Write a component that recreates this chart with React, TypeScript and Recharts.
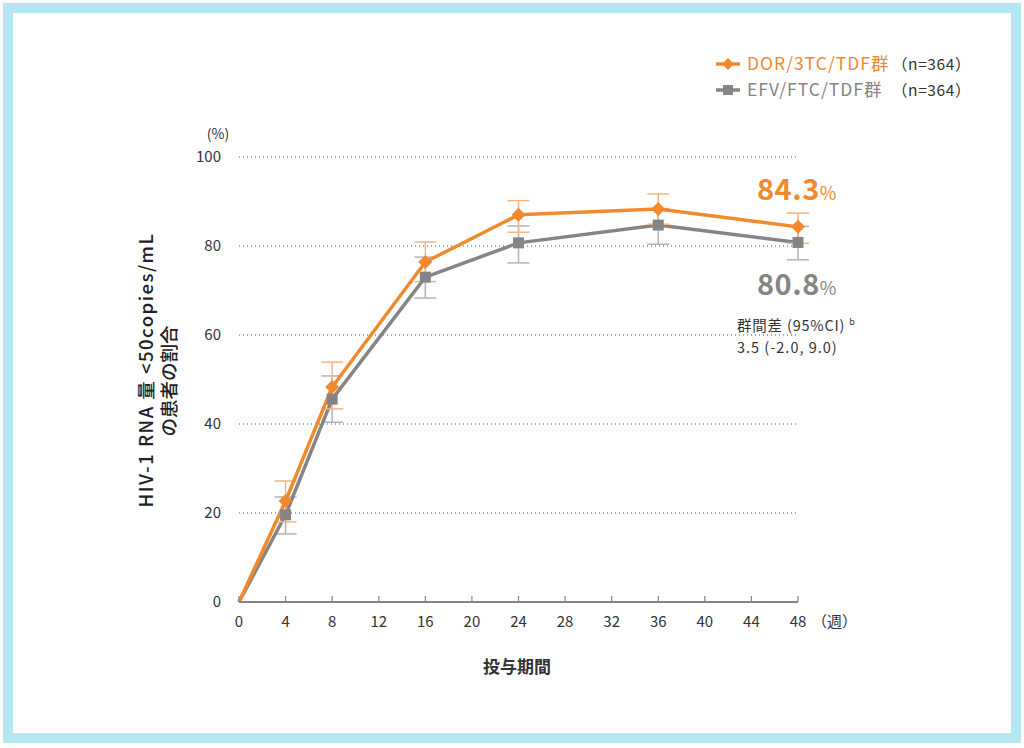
import React from 'react'
import {
  LineChart,
  Line,
  XAxis,
  YAxis,
  CartesianGrid,
  ErrorBar,
} from 'recharts'

const weeks = [0, 4, 8, 16, 24, 36, 48]
const dorValues = [0, 22.7, 48.3, 76.4, 87.0, 88.3, 84.3]
const efvValues = [0, 19.6, 45.6, 73.0, 80.7, 84.7, 80.8]
// [lower, upper] half-widths of the 95% CI
const dorErrors: (number[] | null)[] = [null, [4.7, 4.5], [4.9, 5.6], [4.4, 4.5], [3.9, 3.2], [3.4, 3.4], [3.7, 3.1]]
const efvErrors: (number[] | null)[] = [null, [4.3, 4.0], [5.2, 5.2], [4.7, 4.5], [4.5, 3.8], [4.3, 3.7], [3.9, 3.6]]
const xTicks = [0, 4, 8, 12, 16, 20, 24, 28, 32, 36, 40, 44, 48]
const yTicks = [0, 20, 40, 60, 80, 100]

const data = weeks.map((w, i) => ({
  week: w,
  dor: dorValues[i],
  efv: efvValues[i],
  dorErr: dorErrors[i],
  efvErr: efvErrors[i],
}))

const ORANGE = '#f08a2c'
const GRAY = '#858585'
const FONT = '"Noto Sans CJK JP", "Noto Sans", sans-serif'

const DiamondDot = (props: any) => {
  const { cx, cy, payload } = props
  if (payload.week === 0) return <g key={props.key} />
  const r = 7
  return (
    <polygon
      key={props.key}
      points={`${cx},${cy - r} ${cx + r},${cy} ${cx},${cy + r} ${cx - r},${cy}`}
      fill={ORANGE}
    />
  )
}

const SquareDot = (props: any) => {
  const { cx, cy, payload } = props
  if (payload.week === 0) return <g key={props.key} />
  const s = 11
  return <rect key={props.key} x={cx - s / 2} y={cy - s / 2} width={s} height={s} fill={GRAY} />
}

const XTick = (props: any) => {
  const { x, y, payload } = props
  return (
    <g>
      <line x1={x} y1={y} x2={x} y2={y - 6} stroke={GRAY} strokeWidth={1.2} />
      <text x={x} y={y + 25} textAnchor='middle' fontSize={15} fill='#333' fontFamily={FONT}>
        {payload.value}
      </text>
    </g>
  )
}

export default function App() {
  return (
    <div style={{ position: 'absolute', left: 0, top: 0, width: 1024, height: 748, background: '#fff' }}>
      <div
        style={{
          position: 'absolute',
          left: 3,
          top: 3,
          width: 1018,
          height: 740,
          border: '10px solid #b4e7f1',
          boxSizing: 'border-box',
        }}
      />
      <div style={{ position: 'absolute', left: 0, top: 0 }}>
        <LineChart
          width={1024}
          height={748}
          data={data}
          margin={{ top: 157, right: 226, left: 179, bottom: 116 }}>
          <CartesianGrid vertical={false} stroke='#555' strokeDasharray='1 3' />
          <XAxis
            dataKey='week'
            type='number'
            domain={[0, 48]}
            ticks={xTicks}
            height={30}
            tickLine={false}
            tickSize={0}
            tickMargin={0}
            axisLine={{ stroke: GRAY, strokeWidth: 2 }}
            tick={<XTick />}
            interval={0}
          />
          <YAxis
            domain={[0, 100]}
            ticks={yTicks}
            width={60}
            axisLine={false}
            tickLine={false}
            tickMargin={12}
            tick={{ fontSize: 15, fill: '#333', fontFamily: FONT }}
          />
          <Line
            dataKey='efv'
            stroke={GRAY}
            strokeWidth={3.5}
            dot={<SquareDot />}
            activeDot={false}
            isAnimationActive={false}>
            <ErrorBar dataKey='efvErr' stroke='#b3b3b3' strokeWidth={1.5} width={11} isAnimationActive={false} />
          </Line>
          <Line
            dataKey='dor'
            stroke={ORANGE}
            strokeWidth={3.5}
            dot={<DiamondDot />}
            activeDot={false}
            isAnimationActive={false}>
            <ErrorBar dataKey='dorErr' stroke='#f5b482' strokeWidth={1.5} width={11} isAnimationActive={false} />
          </Line>
        </LineChart>
      </div>
      <svg
        width={1024}
        height={748}
        style={{ position: 'absolute', left: 0, top: 0, pointerEvents: 'none' }}
        fontFamily={FONT}>
        {/* legend */}
        <line x1={716} y1={64} x2={740} y2={64} stroke={ORANGE} strokeWidth={3.5} />
        <polygon points='728,58 734,64 728,70 722,64' fill={ORANGE} />
        <text x={747} y={70} fontSize={17.5} letterSpacing={1} fill={ORANGE}>DOR/3TC/TDF群</text>
        <text x={892} y={70} fontSize={15.5} letterSpacing={0.6} fill='#333'>（n=364）</text>
        <line x1={716} y1={90} x2={740} y2={90} stroke={GRAY} strokeWidth={3.5} />
        <rect x={723} y={85} width={10} height={10} fill={GRAY} />
        <text x={747} y={96} fontSize={17.5} letterSpacing={1} fill={GRAY}>EFV/FTC/TDF群</text>
        <text x={892} y={96} fontSize={15.5} letterSpacing={0.6} fill='#333'>（n=364）</text>

        {/* axis extras */}
        <text x={218} y={139} fontSize={14} fill='#333' textAnchor='middle'>(%)</text>
        <text x={812} y={627} fontSize={15} fill='#333'>（週）</text>
        <text x={517} y={673} fontSize={17} fontWeight={700} fill='#333' textAnchor='middle'>投与期間</text>
        <text
          transform='translate(153,370) rotate(-90)'
          fontSize={18.5}
          fontWeight={500}
          letterSpacing={1.5}
          fill='#222'
          textAnchor='middle'>
          HIV-1 RNA 量 &lt;50copies/mL
        </text>
        <text
          transform='translate(176,381) rotate(-90)'
          fontSize={18.5}
          fontWeight={500}
          fill='#222'
          textAnchor='middle'>
          の患者の割合
        </text>

        {/* end values */}
        <text x={757} y={200} fontSize={29} fontWeight={700} letterSpacing={0.5} fill={ORANGE}>
          84.3<tspan fontSize={18} fontWeight={400}>%</tspan>
        </text>
        <text x={757} y={295} fontSize={29} fontWeight={700} letterSpacing={0.5} fill={GRAY}>
          80.8<tspan fontSize={18} fontWeight={400}>%</tspan>
        </text>
        <text x={737} y={331} fontSize={14.5} letterSpacing={0.8} fill='#333'>
          群間差 (95%CI) <tspan fontSize={9} dy={-6}>b</tspan>
        </text>
        <text x={737} y={353} fontSize={14.5} letterSpacing={1} fill='#333'>3.5 (-2.0, 9.0)</text>
      </svg>
    </div>
  )
}
